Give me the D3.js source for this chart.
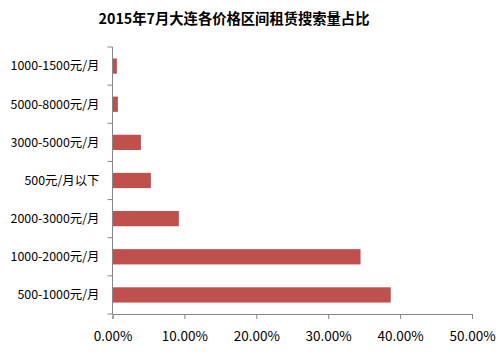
<!DOCTYPE html>
<html><head><meta charset="utf-8">
<script src="https://cdn.jsdelivr.net/npm/d3@7/dist/d3.min.js"></script>
<style>body{margin:0;background:#fff}svg{display:block}</style>
</head><body><svg id="c" width="503" height="362"></svg>
<script>
const title = "2015年7月大连各价格区间租赁搜索量占比";
const categories = ["1000-1500元/月","5000-8000元/月","3000-5000元/月","500元/月以下","2000-3000元/月","1000-2000元/月","500-1000元/月"];
const values = [0.0061,0.0075,0.0395,0.0534,0.0923,0.345,0.387];
const ticks = [0,0.1,0.2,0.3,0.4,0.5];

const svg = d3.select("#c");
const font = "'Noto Sans CJK SC','Microsoft YaHei',sans-serif";
const m = {left:112.5, right:472, top:47, bottom:314};
const x = d3.scaleLinear().domain([0,0.5]).range([m.left,m.right]);
const y = d3.scaleBand().domain(categories).range([m.top,m.bottom]).paddingInner(0.6).paddingOuter(0.3);

svg.append("text").attr("x",234).attr("y",24).attr("text-anchor","middle")
  .attr("font-family",font).attr("font-weight","bold").attr("font-size",14.3).attr("fill","#000").text(title);

svg.selectAll("rect.bar").data(values).join("rect").attr("class","bar")
  .attr("x",x(0)).attr("y",(d,i)=>y(categories[i])).attr("width",d=>x(d)-x(0))
  .attr("height",y.bandwidth()).attr("fill","#C0504D");

const ax = svg.append("g").attr("transform",`translate(0,${m.bottom})`)
  .call(d3.axisBottom(x).tickValues(ticks).tickFormat(d3.format(".2%")).tickSize(5).tickPadding(12));
ax.select(".domain").attr("stroke","#868686");
ax.selectAll(".tick line").attr("stroke","#868686");
ax.selectAll(".tick text").attr("font-family",font).attr("font-size",13.5).attr("fill","#000");

// category axis with ticks at band boundaries
const yb = d3.scaleLinear().domain([0,categories.length]).range([m.top,m.bottom]);
const gy = svg.append("g");
gy.append("line").attr("x1",m.left).attr("x2",m.left).attr("y1",m.top).attr("y2",m.bottom).attr("stroke","#868686");
gy.selectAll("line.t").data(d3.range(categories.length+1)).join("line").attr("class","t")
  .attr("x1",m.left-5).attr("x2",m.left).attr("y1",d=>yb(d)).attr("y2",d=>yb(d)).attr("stroke","#868686");
gy.selectAll("text").data(categories).join("text")
  .attr("x",99.5).attr("y",d=>y(d)+y.bandwidth()/2).attr("dy","0.35em").attr("text-anchor","end")
  .attr("font-family",font).attr("font-size",12.4).attr("fill","#000").text(d=>d);
</script></body></html>
